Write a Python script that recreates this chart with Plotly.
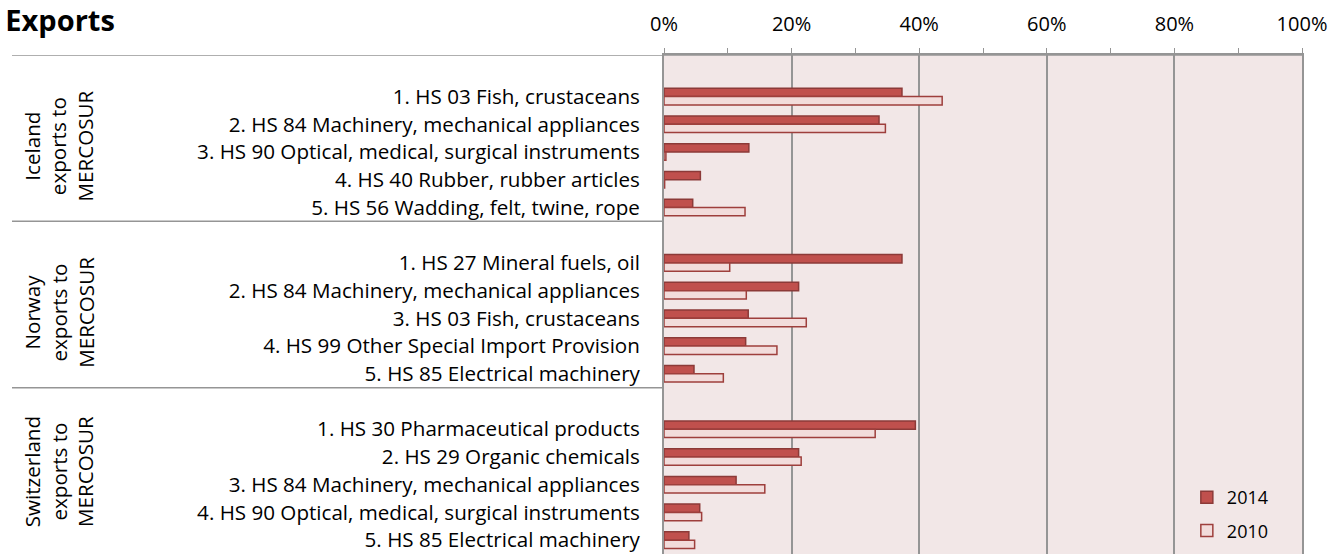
import plotly.graph_objects as go

# Export shares by product (top 5 per exporter), 2014 vs 2010, in %
groups = ["Iceland<br>exports to<br>MERCOSUR",
          "Norway<br>exports to<br>MERCOSUR",
          "Switzerland<br>exports to<br>MERCOSUR"]

products = [
    ["1. HS 03 Fish, crustaceans",
     "2. HS 84 Machinery, mechanical appliances",
     "3. HS 90 Optical, medical, surgical instruments",
     "4. HS 40 Rubber, rubber articles",
     "5. HS 56 Wadding, felt, twine, rope"],
    ["1. HS 27 Mineral fuels, oil",
     "2. HS 84 Machinery, mechanical appliances",
     "3. HS 03 Fish, crustaceans",
     "4. HS 99 Other Special Import Provision",
     "5. HS 85 Electrical machinery"],
    ["1. HS 30 Pharmaceutical products",
     "2. HS 29 Organic chemicals",
     "3. HS 84 Machinery, mechanical appliances",
     "4. HS 90 Optical, medical, surgical instruments",
     "5. HS 85 Electrical machinery"],
]

share_2014 = [
    [37.3, 33.7, 13.3, 5.7, 4.5],
    [37.3, 21.1, 13.2, 12.8, 4.7],
    [39.4, 21.1, 11.3, 5.6, 3.9],
]
share_2010 = [
    [43.6, 34.7, 0.3, 0.1, 12.7],
    [10.3, 12.9, 22.3, 17.7, 9.3],
    [33.1, 21.5, 15.8, 5.9, 4.8],
]

x_ticks = [0, 20, 40, 60, 80, 100]

FONT = "Open Sans, sans-serif"
GRID = "#959595"
LABEL_SIZE = 20.6

# each group: one empty slot, then five product rows
slot = 6
pos, labels, v14, v10 = [], [], [], []
for g in range(len(groups)):
    for i, name in enumerate(products[g]):
        pos.append(g * slot + 1 + i)
        labels.append(name)
        v14.append(share_2014[g][i])
        v10.append(share_2010[g][i])

fig = go.Figure()
fig.add_trace(go.Bar(
    y=pos, x=v14, orientation="h", name="2014", legendgroup="a",
    marker=dict(color="#C0504D", line=dict(color="#8C3A38", width=1.5)),
))
fig.add_trace(go.Bar(
    y=pos, x=v10, orientation="h", name="2010", legendgroup="b",
    marker=dict(color="#F2DCDB", line=dict(color="#9E3F3C", width=1.5)),
))

n_slots = slot * len(groups)
left = -(664 - 12) / (1302 - 664)
label_offset = [2.8, 2.8, 2.55]  # where the rotated group label sits in its block

# group separators and group labels
for g in range(len(groups)):
    y0 = g * slot - 0.5
    fig.add_shape(type="line", xref="paper", yref="y",
                  x0=left, x1=0 if g else 1, y0=y0, y1=y0,
                  line=dict(color=GRID, width=1.5), layer="above")
    fig.add_annotation(
        text=groups[g], xref="paper", yref="y",
        x=(59 - 664) / (1302 - 664), y=g * slot + label_offset[g],
        xanchor="center", yanchor="middle",
        textangle=-90, showarrow=False, align="center",
        font=dict(family=FONT, size=LABEL_SIZE, color="#000000"),
    )

fig.update_layout(
    width=1339, height=554,
    margin=dict(l=664, r=37, t=55, b=0),
    paper_bgcolor="white",
    plot_bgcolor="#F2E7E7",
    barmode="group", bargap=0.4, bargroupgap=0,
    font=dict(family=FONT, size=LABEL_SIZE, color="#000000"),
    title=dict(text="<b>Exports</b>", x=0.004, xanchor="left",
               y=1 - 21 / 554, yanchor="middle",
               font=dict(family=FONT, size=29, color="#000000")),
    legend=dict(x=0.8195, y=0.01, xanchor="left", yanchor="bottom",
                bgcolor="rgba(0,0,0,0)", font=dict(size=18),
                tracegroupgap=7, itemwidth=30),
    showlegend=True,
)
fig.update_xaxes(
    side="top", range=[0, 100], tickvals=x_ticks,
    ticktext=[f"{t}%" for t in x_ticks],
    showgrid=True, gridcolor=GRID, gridwidth=2, zeroline=False,
    showline=True, linecolor=GRID, linewidth=1.5,
    ticks="outside", ticklen=5, tickcolor=GRID,
    minor=dict(ticks="outside", dtick=10, ticklen=5, tickcolor=GRID, showgrid=False),
    tickfont=dict(size=20), ticklabelstandoff=9,
)
fig.update_yaxes(
    range=[n_slots - 0.5, -0.5], tickvals=pos, ticktext=labels,
    showgrid=False, zeroline=False,
    showline=True, mirror=True, linecolor=GRID, linewidth=2,
    ticks="", ticklabelstandoff=18, tickfont=dict(size=LABEL_SIZE),
)

fig.write_html("out.html", config={"displayModeBar": False},
               post_script="document.body.style.margin='0';")
